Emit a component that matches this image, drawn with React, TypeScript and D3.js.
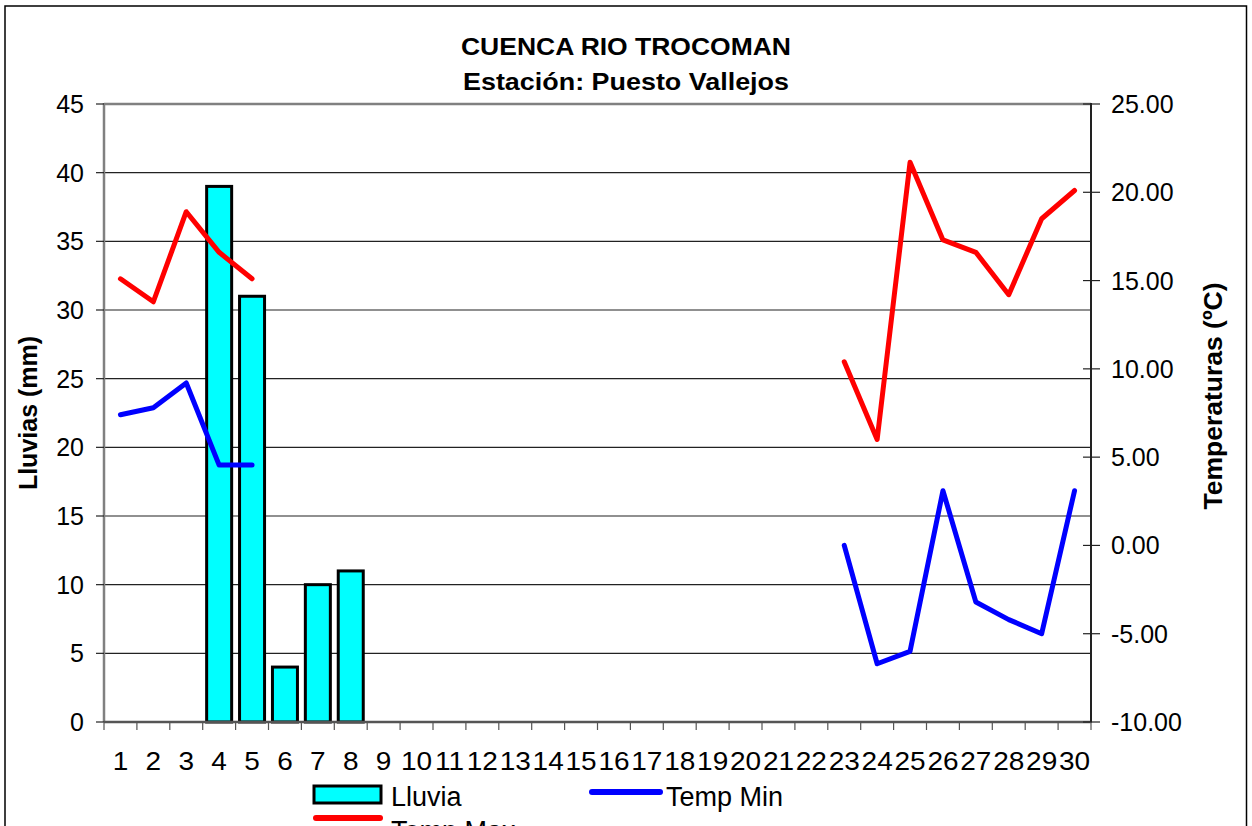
import React from "react";
import * as d3 from "d3";

const days: string[] = Array.from({ length: 30 }, (_, i) => String(i + 1));
const lluvia: number[] = [0, 0, 0, 39, 31, 4, 10, 11, 0, 0, 0, 0, 0, 0, 0, 0, 0, 0, 0, 0, 0, 0, 0, 0, 0, 0, 0, 0, 0, 0];
const tempMax: (number | null)[] = [15.1, 13.8, 18.9, 16.6, 15.1, null, null, null, null, null, null, null, null, null, null, null, null, null, null, null, null, null, 10.4, 6.0, 21.7, 17.3, 16.6, 14.2, 18.5, 20.1];
const tempMin: (number | null)[] = [7.4, 7.8, 9.2, 4.55, 4.55, null, null, null, null, null, null, null, null, null, null, null, null, null, null, null, null, null, 0.0, -6.7, -6.0, 3.1, -3.2, -4.2, -5.0, 3.1];
const leftTicks: number[] = [0, 5, 10, 15, 20, 25, 30, 35, 40, 45];
const rightTicks: number[] = [-10, -5, 0, 5, 10, 15, 20, 25];

const W = 1252, H = 826;
const L = 104, R = 1091, T = 104, B = 722;
const FONT = "'Liberation Sans', Arial, sans-serif";

export default function App() {
  const x = d3.scaleBand<string>().domain(days).range([L, R]);
  const bw = x.bandwidth();
  const yL = d3.scaleLinear().domain([0, 45]).range([B, T]);
  const yR = d3.scaleLinear().domain([-10, 25]).range([B, T]);
  const cx = (d: string) => (x(d) as number) + bw / 2;
  const mkLine = (vals: (number | null)[]) =>
    d3.line<number>()
      .defined((_, i) => vals[i] !== null)
      .x((_, i) => cx(days[i]))
      .y((_, i) => yR(vals[i] as number))(vals.map((v) => (v === null ? 0 : v)));
  const barW = bw * 0.76;

  return (
    <svg width={W} height={H} style={{ position: "absolute", left: 0, top: 0, background: "#fff" }} fontFamily={FONT}>
      <rect x={5} y={6} width={1241.5} height={900} fill="#fff" stroke="#000" strokeWidth={1.5} />
      {/* gridlines */}
      {leftTicks.filter((t) => t > 0).map((t) => (
        <line key={"g" + t} x1={L} x2={R} y1={yL(t)} y2={yL(t)} stroke={t === 45 ? "#808080" : "#222"} strokeWidth={t === 45 ? 2.5 : 1.2} />
      ))}
      {/* bars */}
      {lluvia.map((v, i) => v > 0 ? (
        <rect key={"b" + i} x={cx(days[i]) - barW / 2} y={yL(v)} width={barW} height={yL(0) - yL(v)} fill="#00ffff" stroke="#000" strokeWidth={3} />
      ) : null)}
      {/* axes */}
      <line x1={L} x2={L} y1={T - 1} y2={B} stroke="#808080" strokeWidth={2.5} />
      <line x1={L} x2={R} y1={B} y2={B} stroke="#555" strokeWidth={2.5} />
      <line x1={R} x2={R} y1={T - 1} y2={B + 1} stroke="#222" strokeWidth={2} />
      {leftTicks.map((t) => (
        <g key={"lt" + t}>
          <line x1={96} x2={L} y1={yL(t)} y2={yL(t)} stroke="#222" strokeWidth={1.2} />
          <text x={84} y={yL(t) + 9} textAnchor="end" fontSize={25}>{t}</text>
        </g>
      ))}
      {rightTicks.map((t) => (
        <g key={"rt" + t}>
          <line x1={R - 8} x2={R + 9} y1={yR(t)} y2={yR(t)} stroke="#222" strokeWidth={1.2} />
          <text x={R + 20} y={yR(t) + 9} textAnchor="start" fontSize={25}>{t.toFixed(2)}</text>
        </g>
      ))}
      {days.map((d, i) => (
        <line key={"xt" + i} x1={x(d) as number} x2={x(d) as number} y1={B} y2={B + 8} stroke="#555" strokeWidth={1.2} />
      ))}
      <line x1={R} x2={R} y1={B} y2={B + 8} stroke="#555" strokeWidth={1.2} />
      {days.map((d) => (
        <text key={"xl" + d} transform={`translate(${cx(d)},770) scale(1.12,1)`} textAnchor="middle" fontSize={25}>{d}</text>
      ))}
      {/* lines */}
      <path d={mkLine(tempMax) || ""} fill="none" stroke="#ff0000" strokeWidth={5} strokeLinejoin="round" strokeLinecap="round" />
      <path d={mkLine(tempMin) || ""} fill="none" stroke="#0000ff" strokeWidth={5} strokeLinejoin="round" strokeLinecap="round" />
      {/* titles */}
      <text x={626} y={55} textAnchor="middle" fontSize={24} fontWeight="bold" textLength={330} lengthAdjust="spacingAndGlyphs">CUENCA RIO TROCOMAN</text>
      <text x={626} y={90} textAnchor="middle" fontSize={24} fontWeight="bold" textLength={326} lengthAdjust="spacingAndGlyphs">Estación: Puesto Vallejos</text>
      <text transform={`translate(37,${(T + B) / 2}) rotate(-90)`} textAnchor="middle" fontSize={25} fontWeight="bold">Lluvias (mm)</text>
      <text transform={`translate(1222,396) rotate(-90)`} textAnchor="middle" fontSize={26.5} fontWeight="bold">Temperaturas (ºC)</text>
      {/* legend */}
      <rect x={314} y={786} width={67} height={17} fill="#00ffff" stroke="#000" strokeWidth={3} />
      <text x={391} y={806} fontSize={27}>Lluvia</text>
      <line x1={592} x2={660} y1={792} y2={792} stroke="#0000ff" strokeWidth={6} strokeLinecap="round" />
      <text x={666} y={806} fontSize={27}>Temp Min</text>
      <line x1={316} x2={380} y1={818} y2={818} stroke="#ff0000" strokeWidth={6} strokeLinecap="round" />
      <text x={391} y={840} fontSize={27}>Temp Max</text>
    </svg>
  );
}
